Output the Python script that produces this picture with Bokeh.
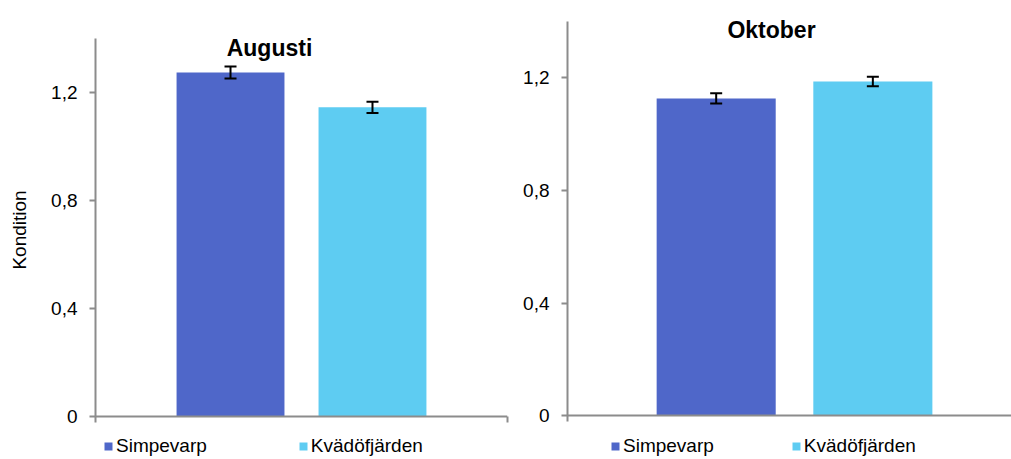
from bokeh.plotting import figure
from bokeh.layouts import row
from bokeh.models import (ColumnDataSource, Range1d, FixedTicker, Whisker, TeeHead,
                          Legend, LegendItem, Label, Span, LinearAxis)
from bokeh.embed import file_html
from bokeh.resources import INLINE

# Sites and bar colours
sites = ["Simpevarp", "Kvädöfjärden"]
colors = ["#4F67C9", "#5ECCF2"]

# Y axis ticks (Swedish decimal comma)
tick_values = [0, 0.4, 0.8, 1.2]
tick_labels = ["0", "0,4", "0,8", "1,2"]
y_max = 1.4

# Condition index, mean and standard error per site
aug_mean = [1.275, 1.146]
aug_err = [0.022, 0.021]
okt_mean = [1.127, 1.187]
okt_err = [0.018, 0.017]

FONT = "Liberation Sans"
AXIS_GREY = "#8C8C8C"


def style_axis(ax):
    ax.minor_tick_line_color = None
    ax.major_tick_in = 0
    ax.major_tick_out = 6
    ax.axis_line_color = AXIS_GREY
    ax.major_tick_line_color = AXIS_GREY
    ax.axis_line_width = 2
    ax.major_tick_line_width = 2


def panel(title, means, errs, width, x_span, y_span, tick_stub, borders, title_xy,
          legend_xy, legend_spacing, ylabel=None, right_stub=False):
    pos = [i + 0.5 for i in range(len(sites))]
    src = ColumnDataSource(dict(
        x=pos, top=means,
        lower=[m - e for m, e in zip(means, errs)],
        upper=[m + e for m, e in zip(means, errs)],
        color=colors, site=sites,
    ))
    left, right = borders
    # the frame covers the whole height so title and legend can sit inside it;
    # the value axis line itself runs from the baseline to y_max
    p = figure(width=width, height=459,
               x_range=Range1d(*x_span), y_range=Range1d(*y_span),
               x_axis_location=None,
               output_backend="svg", toolbar_location=None,
               min_border_left=left, min_border_right=right,
               min_border_top=0, min_border_bottom=0)
    p.outline_line_color = None
    p.xgrid.visible = False
    p.ygrid.visible = False

    bars = p.vbar(x="x", top="top", width=0.76, color="color",
                  line_color=None, source=src)

    p.add_layout(Whisker(source=src, base="x", lower="lower", upper="upper",
                         level="overlay",
                         line_color="black", line_width=2,
                         upper_head=TeeHead(size=12, line_width=2, line_color="black"),
                         lower_head=TeeHead(size=12, line_width=2, line_color="black")))

    # baseline of the category axis
    p.add_layout(Span(location=0, dimension="width", line_color=AXIS_GREY, line_width=2))

    # value axis (runs a short stub below zero, the category boundary tick)
    ya = p.yaxis[0]
    ya.bounds = (-tick_stub, y_max)
    ya.ticker = FixedTicker(ticks=tick_values)
    ya.major_label_overrides = dict(zip(tick_values, tick_labels))
    style_axis(ya)
    ya.major_label_standoff = 12
    ya.major_label_text_font = FONT
    ya.major_label_text_font_size = "19px"
    ya.major_label_text_color = "black"
    if ylabel:
        ya.axis_label = ylabel
        ya.axis_label_text_font = FONT
        ya.axis_label_text_font_size = "19px"
        ya.axis_label_text_font_style = "normal"
        ya.axis_label_text_color = "black"
        ya.axis_label_standoff = 18

    if right_stub:
        # closing category boundary tick at the right end of the baseline
        stub = LinearAxis(bounds=(-tick_stub, 0), ticker=FixedTicker(ticks=[]))
        style_axis(stub)
        p.add_layout(stub, "right")

    p.add_layout(Label(x=title_xy[0], y=title_xy[1], x_units="screen", y_units="screen",
                       text=title, text_font=FONT, text_font_style="bold",
                       text_font_size="23px", text_align="center",
                       text_baseline="alphabetic", text_color="black"))

    legend = Legend(items=[LegendItem(label=s, renderers=[bars], index=i)
                           for i, s in enumerate(sites)],
                    orientation="horizontal", location=legend_xy,
                    padding=0, margin=0, spacing=legend_spacing,
                    glyph_width=10, glyph_height=10, label_standoff=3,
                    label_height=20,
                    border_line_alpha=0, background_fill_alpha=0,
                    label_text_font=FONT, label_text_font_size="19px",
                    label_text_color="black")
    p.add_layout(legend)
    return p


p_aug = panel("Augusti", aug_mean, aug_err, 520, (-0.451, 2.451), (-0.159, 1.542), 0.022,
              (95, 13), (174, 412), (8, 2), 91, ylabel="Kondition", right_stub=True)
p_okt = panel("Oktober", okt_mean, okt_err, 491, (-0.449, 2.385), (-0.156, 1.475), 0.021,
              (46, 0), (204, 430), (43, 2), 77)

p = row(p_aug, p_okt)
open("out.html", "w").write(file_html(p, INLINE))
